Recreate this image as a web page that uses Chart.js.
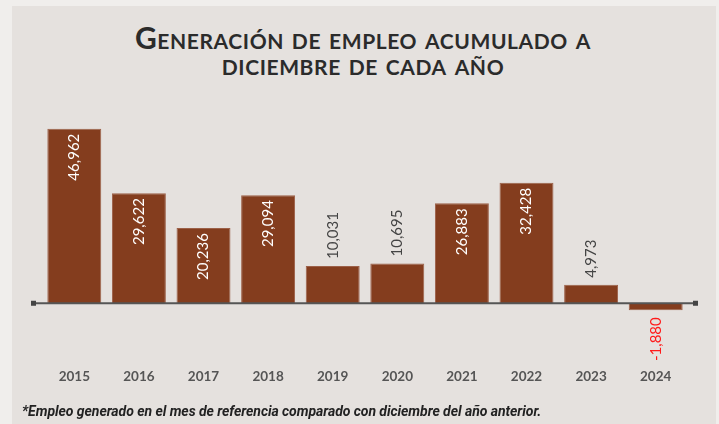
<!DOCTYPE html>
<html lang="es">
  <head>
    <meta charset="UTF-8" />
    <title>Generación de empleo acumulado</title>
    <style>
      body {
        margin: 0;
        width: 719px;
        height: 424px;
        background-color: #f0eeec;
        position: relative;
        overflow: hidden;
        font-family: Lato, "Open Sans", sans-serif;
      }
      .panel {
        position: absolute;
        left: 12px;
        top: 6px;
        width: 704px;
        height: 418px;
        background-color: #e5e1de;
      }
      h1 {
        position: absolute;
        left: 0;
        top: 24px;
        width: 726px;
        margin: 0;
        text-align: center;
        font-size: 30px;
        line-height: 26px;
        font-weight: 700;
        font-variant: small-caps;
        color: #2b2b2b;
        letter-spacing: 0.6px;
      }
      .note {
        position: absolute;
        left: 22px;
        top: 403px;
        margin: 0;
        font-family: Roboto, sans-serif;
        font-size: 14px;
        font-weight: 700;
        font-style: italic;
        letter-spacing: -0.05px;
        color: #222;
      }
      #chartBox {
        position: absolute;
        left: 0;
        top: 0;
        width: 719px;
        height: 424px;
      }
    </style>
  </head>
  <body>
    <div class="panel"></div>
    <h1>Generación de empleo acumulado a<br />diciembre de cada año</h1>
    <div id="chartBox"><canvas id="myChart"></canvas></div>
    <p class="note">*Empleo generado en el mes de referencia comparado con diciembre del año anterior.</p>
    <script src="https://cdn.jsdelivr.net/npm/chart.js"></script>
    <script>
      const years = ["2015", "2016", "2017", "2018", "2019", "2020", "2021", "2022", "2023", "2024"];
      const empleo = [46962, 29622, 20236, 29094, 10031, 10695, 26883, 32428, 4973, -1880];

      // labels rotated, inside tall bars, outside short ones
      const barLabels = {
        id: "barLabels",
        afterDatasetsDraw(chart) {
          const ctx = chart.ctx;
          const meta = chart.getDatasetMeta(0);
          ctx.save();
          ctx.font = "15px Lato, sans-serif";
          ctx.textBaseline = "middle";
          meta.data.forEach((bar, i) => {
            const v = empleo[i];
            const txt = v.toLocaleString("en-US");
            const h = Math.abs(bar.base - bar.y);
            ctx.save();
            ctx.translate(bar.x, bar.y);
            ctx.rotate(-Math.PI / 2);
            if (v < 0) {
              ctx.fillStyle = "#ff1a1a";
              ctx.textAlign = "right";
              ctx.fillText(txt, -7, 0);
            } else if (h > 60) {
              ctx.fillStyle = "#ffffff";
              ctx.textAlign = "right";
              ctx.fillText(txt, -5, 0);
            } else {
              ctx.fillStyle = "#444444";
              ctx.textAlign = "left";
              ctx.fillText(txt, 7, 0);
            }
            ctx.restore();
          });
          ctx.restore();
        },
      };

      // zero line with end dots
      const zeroLine = {
        id: "zeroLine",
        afterDatasetsDraw(chart) {
          const ctx = chart.ctx;
          const y = chart.scales.y.getPixelForValue(0);
          ctx.save();
          ctx.strokeStyle = "#555555";
          ctx.fillStyle = "#444444";
          ctx.lineWidth = 2;
          ctx.beginPath();
          ctx.moveTo(33, y);
          ctx.lineTo(695, y);
          ctx.stroke();
          ctx.fillRect(31, y - 2.5, 5, 5);
          ctx.fillRect(693, y - 2.5, 5, 5);
          ctx.restore();
        },
      };

      new Chart(document.getElementById("myChart"), {
        type: "bar",
        data: {
          labels: years,
          datasets: [
            {
              data: empleo,
              backgroundColor: "#843d1e",
              borderColor: "#9c6048",
              borderWidth: 1,
              categoryPercentage: 1,
              barPercentage: 0.835,
            },
          ],
        },
        options: {
          responsive: true,
          maintainAspectRatio: false,
          animation: false,
          layout: { padding: { left: 42, right: 31, top: 110, bottom: 35 } },
          plugins: {
            legend: { display: false },
            tooltip: { enabled: false },
          },
          scales: {
            x: {
              grid: { display: false, drawTicks: false },
              border: { display: false },
              ticks: {
                color: "#555555",
                font: { family: "Lato, sans-serif", size: 13.5, weight: "bold" },
                padding: 10,
              },
              afterFit(scale) {
                scale.height = 30;
              },
            },
            y: {
              display: false,
              min: -15000,
              max: 52000,
            },
          },
        },
        plugins: [zeroLine, barLabels],
      });
    </script>
  </body>
</html>
